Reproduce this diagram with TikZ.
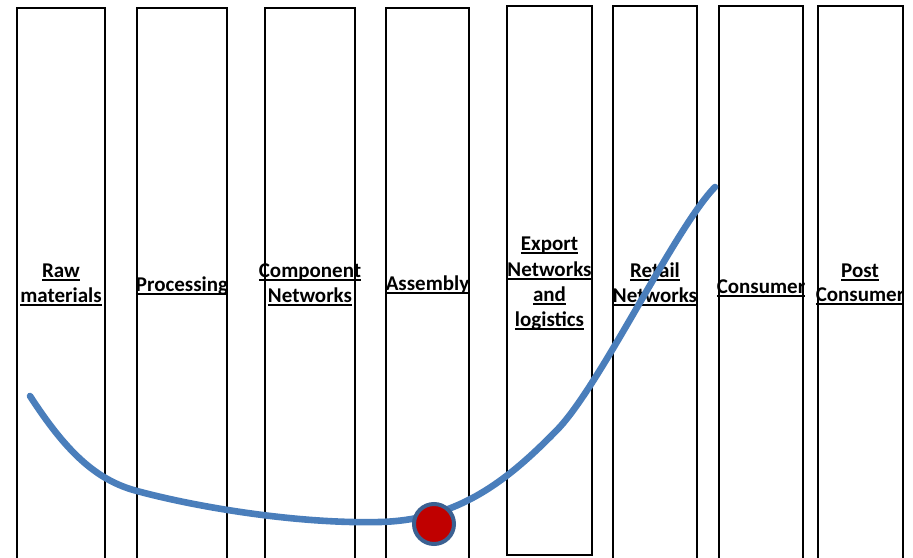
\documentclass[tikz,border=0pt]{standalone}
\usepackage{fontspec}
\setmainfont{Carlito}
\definecolor{curveblue}{HTML}{4A7EBB}
\definecolor{dotred}{HTML}{C00000}
\definecolor{dotedge}{HTML}{3B6192}
\newcommand\myul[1]{\setbox0\hbox{#1}\rlap{\rule[-3.6pt]{\wd0}{2pt}}\box0}
\begin{document}
\begin{tikzpicture}[x=1pt,y=-1pt,
  colbox/.style={draw=black,line width=1.4pt},
  lbl/.style={anchor=base,inner sep=0pt,font=\fontsize{21}{26}\selectfont\bfseries},
  curve/.style={draw=curveblue,line width=6.6pt,line cap=round},
  dot/.style={circle,fill=dotred,draw=dotedge,line width=4pt,minimum size=40pt,inner sep=0pt}]
\useasboundingbox (0,0) rectangle (913,557);
\clip (0,0) rectangle (913,557);
\fill[white] (0,0) rectangle (913,557);
% columns
\draw[colbox] (17,8) rectangle (105,570);
\draw[colbox] (137,8) rectangle (227,570);
\draw[colbox] (265,8) rectangle (355,570);
\draw[colbox] (386,8) rectangle (469,570);
\draw[colbox] (507,6) rectangle (592,555);
\draw[colbox] (613,6) rectangle (697,570);
\draw[colbox] (719,6) rectangle (803,570);
\draw[colbox] (818,6) rectangle (903,570);
% labels
\node[lbl] (raw1) at (61,277) {\myul{Raw}};
\node[lbl] (raw2) at (61,302) {\myul{materials}};
\node[lbl] (proc) at (182,291) {\myul{Processing}};
\node[lbl] (comp1) at (310,277) {\myul{Component}};
\node[lbl] (comp2) at (310,302) {\myul{Networks}};
\node[lbl] (asm) at (427.5,290) {\myul{Assembly}};
\node[lbl] (exp1) at (549.5,250) {\myul{Export}};
\node[lbl] (exp2) at (549.5,276) {\myul{Networks}};
\node[lbl] (exp3) at (549.5,301) {\myul{and}};
\node[lbl] (exp4) at (549.5,326) {\myul{logistics}};
\node[lbl] (ret1) at (655,277) {\myul{Retail}};
\node[lbl] (ret2) at (655,302) {\myul{Networks}};
\node[lbl] (cons) at (761,293) {\myul{Consumer}};
\node[lbl] (post1) at (860,277) {\myul{Post}};
\node[lbl] (post2) at (860,301) {\myul{Consumer}};
% curve
\coordinate (c0) at (30,396);
\coordinate (c1) at (137,491);
\coordinate (c2) at (380,522);
\coordinate (c3) at (557,430);
\coordinate (c4) at (715,187);
\draw[curve] (c0) .. controls (65,450) and (95,480) .. (c1)
  .. controls (200,508) and (300,524) .. (c2)
  .. controls (460,520) and (510,478) .. (c3)
  .. controls (600,386) and (675,228) .. (c4);
\node[dot] (mark) at (434,524) {};
\end{tikzpicture}
\end{document}
